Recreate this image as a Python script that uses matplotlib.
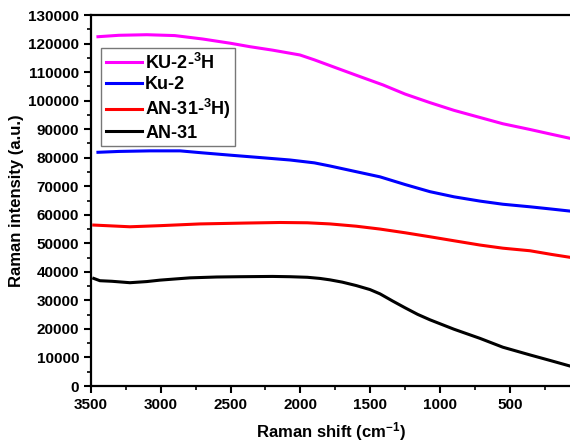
import matplotlib.pyplot as plt
from matplotlib.ticker import MultipleLocator

plt.rcParams['font.family'] = ['Liberation Sans', 'DejaVu Sans']
plt.rcParams['font.weight'] = 'bold'
plt.rcParams['mathtext.fontset'] = 'custom'
plt.rcParams['mathtext.rm'] = 'Liberation Sans:bold'
plt.rcParams['mathtext.bf'] = 'Liberation Sans:bold'
plt.rcParams['mathtext.default'] = 'bf'

# --- data ---
ku2_3h_x = [3450, 3300, 3100, 2900, 2700, 2500, 2361, 2200, 2003, 1900, 1767, 1600, 1408, 1250, 1072, 900, 714, 550, 356, 200, 69]
ku2_3h_y = [122400, 122900, 123100, 122800, 121600, 120100, 118900, 117700, 116000, 114300, 111900, 108900, 105500, 102300, 99300, 96600, 94100, 91900, 89900, 88200, 86800]

ku2_x = [3450, 3300, 3077, 2862, 2700, 2504, 2300, 2074, 1900, 1788, 1600, 1430, 1250, 1072, 900, 714, 550, 355, 200, 69]
ku2_y = [81900, 82200, 82400, 82400, 81700, 80900, 80100, 79200, 78200, 77100, 75100, 73300, 70600, 68100, 66300, 64800, 63700, 62800, 62000, 61300]

an31_3h_x = [3480, 3350, 3221, 3000, 2719, 2400, 2146, 1950, 1788, 1600, 1430, 1250, 1072, 900, 714, 550, 356, 200, 69]
an31_3h_y = [56400, 56100, 55800, 56200, 56800, 57100, 57300, 57200, 56800, 56000, 55000, 53700, 52300, 50900, 49400, 48300, 47400, 46100, 45100]

an31_x = [3480, 3436, 3350, 3221, 3100, 3006, 2900, 2791, 2600, 2433, 2200, 2074, 1950, 1860, 1788, 1700, 1600, 1502, 1430, 1340, 1250, 1160, 1072, 900, 714, 550, 356, 200, 69]
an31_y = [37700, 36900, 36700, 36200, 36600, 37100, 37500, 37900, 38200, 38300, 38400, 38300, 38100, 37700, 37200, 36400, 35200, 33800, 32300, 29800, 27400, 25100, 23200, 19900, 16700, 13600, 10900, 8800, 7000]

series = [
    (ku2_3h_x, ku2_3h_y, '#ff00ff', 'KU-2-$^{3}$H'),
    (ku2_x, ku2_y, '#0000ff', 'Ku-2'),
    (an31_3h_x, an31_3h_y, '#ff0000', 'AN-31-$^{3}$H)'),
    (an31_x, an31_y, '#000000', 'AN-31'),
]

fig = plt.figure(figsize=(5.70, 4.46), dpi=100)
ax = fig.add_axes([0.1596, 0.1345, 0.8404, 0.8318])

for xs, ys, c, lab in series:
    ax.plot(xs, ys, color=c, lw=2.2, label=lab)

ax.set_xlim(3500, 69)
ax.set_ylim(0, 130000)
ax.xaxis.set_major_locator(MultipleLocator(500))
ax.xaxis.set_minor_locator(MultipleLocator(250))
ax.yaxis.set_major_locator(MultipleLocator(10000))
ax.yaxis.set_minor_locator(MultipleLocator(5000))
ax.tick_params(which='major', direction='out', length=5, width=1.5, labelsize=11)
ax.tick_params(which='minor', direction='out', length=3, width=1.2)
for lbl in ax.get_xticklabels() + ax.get_yticklabels():
    lbl.set_fontweight('bold')

for side in ['left', 'bottom', 'top']:
    ax.spines[side].set_linewidth(1.6)
ax.spines['right'].set_visible(False)

ax.set_xlabel('Raman shift (cm$^{-1}$)', fontsize=12, fontweight='bold', labelpad=6)
ax.set_ylabel('Raman intensity (a.u.)', fontsize=12, fontweight='bold', labelpad=3)

leg = ax.legend(loc='upper left', bbox_to_anchor=(101 / 570, 1 - 48 / 446),
                bbox_transform=fig.transFigure, fontsize=13,
                frameon=True, fancybox=False, edgecolor='#555555',
                handlelength=2.0, handletextpad=0.2, borderpad=0.25,
                borderaxespad=0, labelspacing=0.2)
leg.get_frame().set_linewidth(1.0)
for t in leg.get_texts():
    t.set_fontweight('bold')

fig.savefig('out.png', dpi=100)
